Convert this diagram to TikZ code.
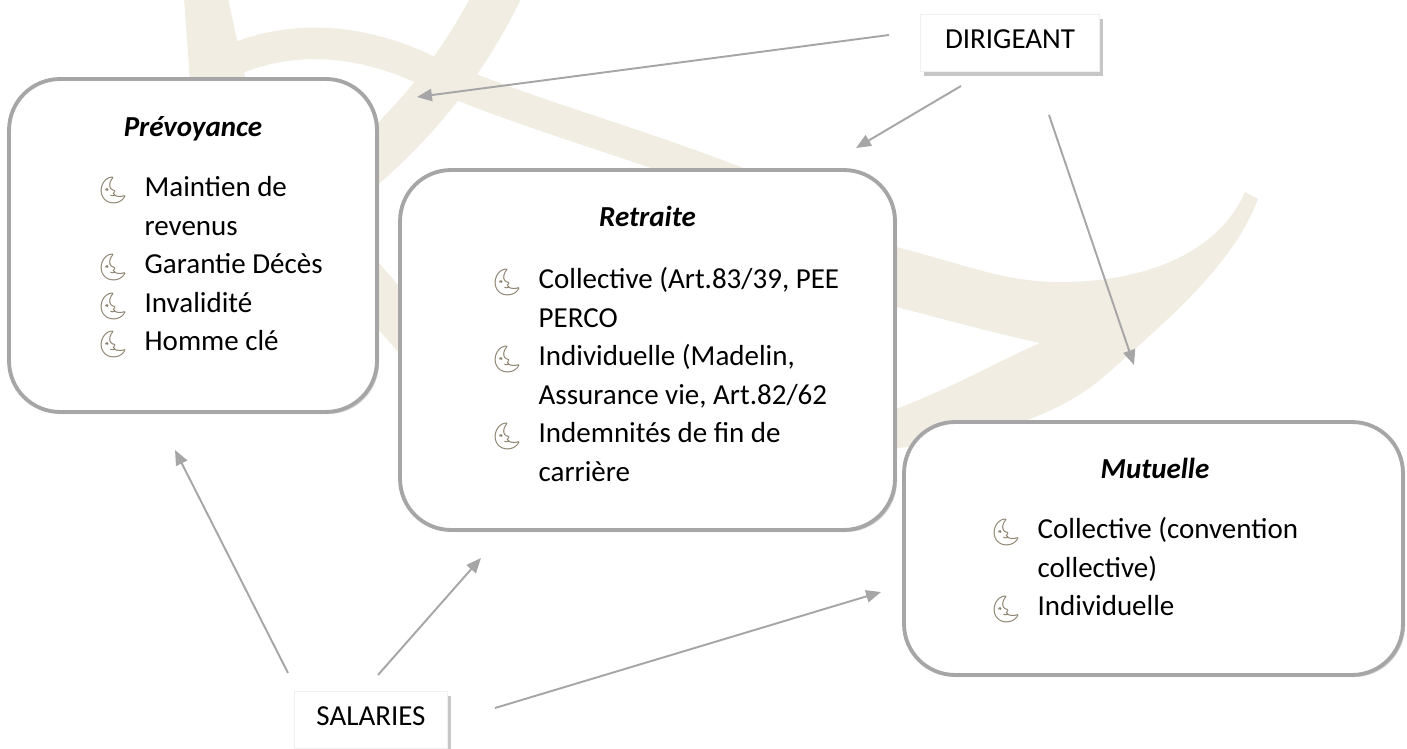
\documentclass[tikz,border=0pt]{standalone}
\usepackage{fontspec}
\setmainfont{Carlito}
\newfontfamily\emo{Noto Emoji}
\usetikzlibrary{arrows.meta,shadows}

\definecolor{wmark}{RGB}{242,237,227}
\definecolor{boxgray}{RGB}{166,166,166}
\definecolor{moongray}{RGB}{135,125,105}

\newcommand{\txtsize}{\fontsize{16.5}{21.9}\selectfont}
\newcommand{\moonbul}{\raisebox{-1.5pt}{\emo\fontsize{15}{15}\selectfont\textcolor{moongray}{🌜}}}
\newcommand{\itm}{\makebox[27.5pt][l]{\moonbul}}
\newcommand{\hang}{\hspace*{27.5pt}}

\tikzset{
  theme/.style={draw=boxgray, line width=2.2pt, rounded corners=29pt, fill=white,
    drop shadow={shadow xshift=1.2pt, shadow yshift=-1.2pt, opacity=.3, fill=black!50}},
  tag/.style={fill=white, draw=black!6, inner sep=0pt, text depth=5pt,
    minimum height=1.14cm,
    drop shadow={shadow xshift=2pt, shadow yshift=-2.5pt, opacity=.45, fill=black!50}},
  head/.style={font=\txtsize\bfseries\itshape, anchor=base},
  items/.style={anchor=base west, inner sep=0pt},
  link/.style={draw=boxgray, line width=1.1pt, -{Triangle[length=8.5pt,width=7pt]}},
}

\begin{document}
\begin{tikzpicture}[x=0.02cm, y=-0.02cm, font=\txtsize]
  \useasboundingbox (0,0) rectangle (1407,749);

  % watermark behind everything
  \fill[wmark] (184,-2) -- (228,-2) -- (252,110) -- (192,110) -- cycle;
  \draw[wmark, line width=18pt] (210,72) .. controls (265,38) and (345,30) .. (430,72)
    .. controls (540,120) and (650,145) .. (780,200);
  \draw[wmark, line width=26pt] (500,-10) .. controls (470,50) and (430,110) .. (360,170);
  \draw[wmark, line width=25pt] (330,240) -- (460,390);
  \fill[wmark] (880,243) .. controls (960,262) and (1000,282) .. (1060,282)
    .. controls (1150,282) and (1220,250) .. (1245,192) -- (1258,199)
    .. controls (1235,260) and (1180,310) .. (1100,380)
    .. controls (1050,420) and (980,440) .. (880,450) -- (880,415)
    .. controls (950,390) and (1000,360) .. (1040,343)
    .. controls (980,330) and (930,315) .. (880,303) -- cycle;

  % the three themes
  \node[theme, minimum width=7.36cm, minimum height=6.66cm] (prev) at (193,245.5) {};
  \node[theme, minimum width=9.9cm, minimum height=7.2cm] (retr) at (647.5,350) {};
  \node[theme, minimum width=9.98cm, minimum height=5.06cm] (mutu) at (1153.5,548.5) {};

  \node[head] (prev-title) at (193,137) {Prévoyance};
  \node[head] (retr-title) at (647.5,227) {Retraite};
  \node[head] (mutu-title) at (1155,479) {Mutuelle};

  \node[items] (prev-list) at (96,197) {\begin{tabular}[t]{@{}l@{}}
    \itm Maintien de\\ \hang revenus\\ \itm Garantie Décès\\
    \itm Invalidité\\ \itm Homme clé\end{tabular}};
  \node[items] (retr-list) at (490,289) {\begin{tabular}[t]{@{}l@{}}
    \itm Collective (Art.83/39, PEE\\ \hang PERCO\\
    \itm Individuelle (Madelin,\\ \hang Assurance vie, Art.82/62\\
    \itm Indemnités de fin de\\ \hang carrière\end{tabular}};
  \node[items] (mutu-list) at (989,539) {\begin{tabular}[t]{@{}l@{}}
    \itm Collective (convention\\ \hang collective)\\
    \itm Individuelle\end{tabular}};

  % who is concerned
  \node[tag, minimum width=3.58cm] (dir) at (1010,43) {DIRIGEANT};
  \node[tag, minimum width=3.06cm] (sal) at (371,720) {SALARIES};

  \coordinate (dir-p) at (889,35);   \coordinate (p-dir) at (417,97);
  \coordinate (dir-r) at (961,86);   \coordinate (r-dir) at (856,148);
  \coordinate (dir-m) at (1049,115); \coordinate (m-dir) at (1134,365);
  \coordinate (sal-p) at (288,673);  \coordinate (p-sal) at (175,450);
  \coordinate (sal-r) at (378,675);  \coordinate (r-sal) at (481,558);
  \coordinate (sal-m) at (495,708);  \coordinate (m-sal) at (881,592);

  \draw[link] (dir-p) -- (p-dir);
  \draw[link] (dir-r) -- (r-dir);
  \draw[link] (dir-m) -- (m-dir);
  \draw[link] (sal-p) -- (p-sal);
  \draw[link] (sal-r) -- (r-sal);
  \draw[link] (sal-m) -- (m-sal);
\end{tikzpicture}
\end{document}
